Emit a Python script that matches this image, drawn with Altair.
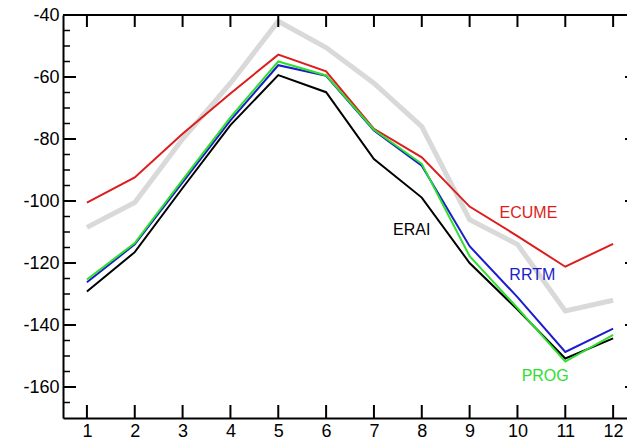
import altair as alt
import pandas as pd

# Monthly values (month 1..12) for each configuration
months = list(range(1, 13))
obs = [-108.5, -100.5, -80.0, -62.0, -42.0, -50.5, -62.0, -76.0, -106.0, -114.0, -135.5, -132.0]
ecume = [-100.5, -92.4, -78.3, -65.3, -52.8, -58.2, -76.7, -85.9, -101.8, -111.3, -121.2, -113.8]
rrtm = [-126.2, -114.0, -94.0, -74.0, -56.2, -59.6, -77.3, -88.6, -114.6, -131.0, -148.7, -141.2]
prog = [-125.3, -113.6, -93.2, -73.0, -55.0, -59.5, -77.0, -88.0, -117.8, -134.5, -151.8, -143.2]
erai = [-129.2, -116.5, -95.8, -75.5, -59.4, -64.9, -86.5, -98.9, -120.0, -135.0, -150.8, -144.3]

names = ["ERAI", "ECUME", "RRTM", "PROG"]
colors = ["#000000", "#dd1c1c", "#1c1ccc", "#2ee02e"]
values = [erai, ecume, rrtm, prog]

# Series labels placed inside the plot
label_names = ["ECUME", "ERAI", "RRTM", "PROG"]
label_x = [10.23, 7.79, 10.31, 10.58]
label_y = [-103.9, -109.5, -124.0, -156.4]

y_major = list(range(-160, -39, 20))
y_minor = [v for v in range(-165, -40, 5) if v % 20 != 0]

W, H = 564, 403
FONT = "Liberation Sans"

x_scale = alt.Scale(domain=[0.5, 12.29], nice=False, zero=False)
y_scale = alt.Scale(domain=[-170, -40], nice=False, zero=False)

obs_df = pd.DataFrame({"month": months, "value": obs})
rows = []
for n, vals in zip(names, values):
    for m, v in zip(months, vals):
        rows.append({"month": m, "value": v, "series": n})
series_df = pd.DataFrame(rows)
labels_df = pd.DataFrame({"name": label_names, "x": label_x, "y": label_y})
xt_df = pd.DataFrame({"month": months})
ymaj_df = pd.DataFrame({"v": y_major})
ymin_df = pd.DataFrame({"v": y_minor})

color_scale = alt.Scale(domain=names, range=colors)

x_axis = alt.Axis(values=months, ticks=False, grid=False, domain=True, domainWidth=2,
                  domainColor="black", labelFontSize=18, labelFont=FONT,
                  labelColor="black", labelPadding=4, title=None)
y_axis = alt.Axis(values=y_major, ticks=False, grid=False, domain=True, domainWidth=2,
                  domainColor="black", labelFontSize=18, labelFont=FONT,
                  labelColor="black", labelPadding=4, title=None,
                  labelExpr="datum.value < 0 ? '-' + abs(datum.value) : '' + datum.value")

obs_line = alt.Chart(obs_df).mark_line(color="#d9d9d9", strokeWidth=5).encode(
    x=alt.X("month:Q", scale=x_scale, axis=x_axis),
    y=alt.Y("value:Q", scale=y_scale, axis=y_axis),
)

lines = alt.Chart(series_df).mark_line(strokeWidth=2).encode(
    x=alt.X("month:Q", scale=x_scale),
    y=alt.Y("value:Q", scale=y_scale),
    color=alt.Color("series:N", scale=color_scale, legend=None),
    order=alt.Order("month:Q"),
    detail="series:N",
)

labels = alt.Chart(labels_df).mark_text(font=FONT, fontSize=16, align="center",
                                        baseline="middle").encode(
    x=alt.X("x:Q", scale=x_scale),
    y=alt.Y("y:Q", scale=y_scale),
    text="name:N",
    color=alt.Color("name:N", scale=color_scale, legend=None),
)

# Inward tick marks on the frame
x_ticks_bottom = alt.Chart(xt_df).mark_rule(color="black", strokeWidth=2).encode(
    x=alt.X("month:Q", scale=x_scale), y=alt.value(H - 13), y2=alt.value(H))
x_ticks_top = alt.Chart(xt_df).mark_rule(color="black", strokeWidth=2).encode(
    x=alt.X("month:Q", scale=x_scale), y=alt.value(0), y2=alt.value(12))
y_ticks_major = alt.Chart(ymaj_df).mark_rule(color="black", strokeWidth=2).encode(
    y=alt.Y("v:Q", scale=y_scale), x=alt.value(0), x2=alt.value(13))
y_ticks_minor = alt.Chart(ymin_df).mark_rule(color="black", strokeWidth=1.5).encode(
    y=alt.Y("v:Q", scale=y_scale), x=alt.value(0), x2=alt.value(7))
y_ticks_right = alt.Chart(ymaj_df).mark_rule(color="black", strokeWidth=2).encode(
    y=alt.Y("v:Q", scale=y_scale), x=alt.value(W - 2), x2=alt.value(W))

# Top edge of the frame
top_edge = alt.Chart(xt_df).mark_rule(color="black", strokeWidth=2).encode(
    y=alt.value(0), x=alt.value(0), x2=alt.value(W))

chart = alt.layer(
    obs_line, lines, labels, x_ticks_bottom, x_ticks_top,
    y_ticks_major, y_ticks_minor, y_ticks_right, top_edge,
).properties(
    width=W, height=H,
    autosize=alt.AutoSizeParams(type="none"),
    padding={"left": 63, "top": 15, "right": 0, "bottom": 26},
).configure_view(stroke=None).configure(background="white")

chart.save("out.html", embed_options={"renderer": "svg", "actions": False})
